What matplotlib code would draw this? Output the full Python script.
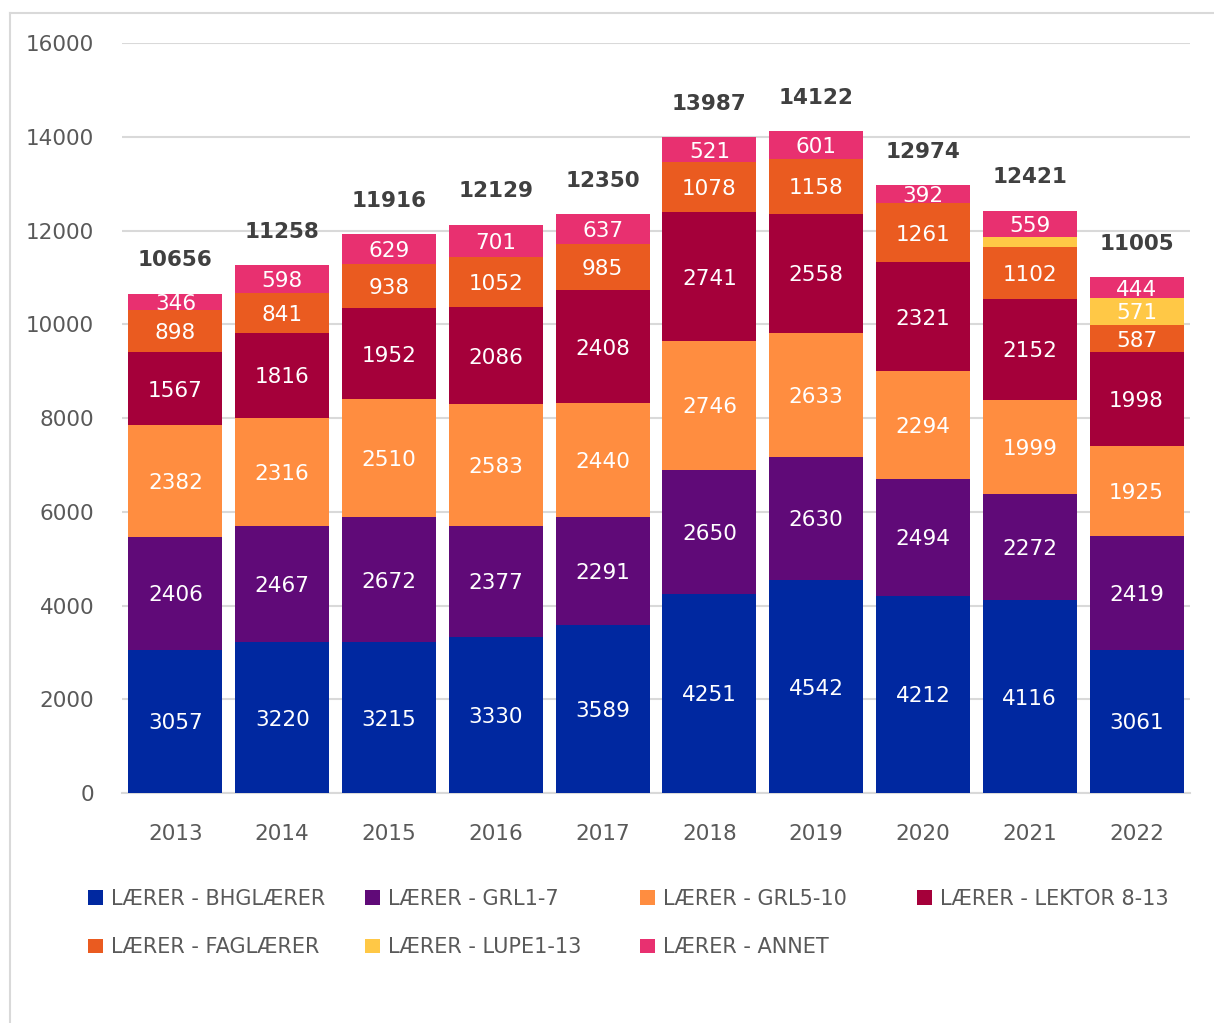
import numpy as np
import matplotlib
matplotlib.use("Agg")
import matplotlib.pyplot as plt
from matplotlib.lines import Line2D

plt.rcParams['font.family'] = ['DejaVu Sans']

years = ['2013', '2014', '2015', '2016', '2017', '2018', '2019', '2020', '2021', '2022']
series = ['LÆRER - BHGLÆRER', 'LÆRER - GRL1-7', 'LÆRER - GRL5-10', 'LÆRER - LEKTOR 8-13',
          'LÆRER - FAGLÆRER', 'LÆRER - LUPE1-13', 'LÆRER - ANNET']
bhg = [3057, 3220, 3215, 3330, 3589, 4251, 4542, 4212, 4116, 3061]
grl17 = [2406, 2467, 2672, 2377, 2291, 2650, 2630, 2494, 2272, 2419]
grl510 = [2382, 2316, 2510, 2583, 2440, 2746, 2633, 2294, 1999, 1925]
lektor = [1567, 1816, 1952, 2086, 2408, 2741, 2558, 2321, 2152, 1998]
fag = [898, 841, 938, 1052, 985, 1078, 1158, 1261, 1102, 587]
lupe = [0, 0, 0, 0, 0, 0, 0, 0, 221, 571]
annet = [346, 598, 629, 701, 637, 521, 601, 392, 559, 444]
totals = [10656, 11258, 11916, 12129, 12350, 13987, 14122, 12974, 12421, 11005]
colors = ['#0028A0', '#600A78', '#FF8D40', '#A5003A', '#EA5B20', '#FFC846', '#E83070']

data = [bhg, grl17, grl510, lektor, fag, lupe, annet]

fig = plt.figure(figsize=(12.14, 10.23), dpi=100)
ax = fig.add_axes([0.1005, 0.2248, 0.8797, 0.7331])

x = np.arange(len(years))
bottom = np.zeros(len(years))
bars = []
for name, vals, col in zip(series, data, colors):
    b = ax.bar(x, vals, 0.88, bottom=bottom, color=col, label=name, zorder=3)
    bars.append(b)
    for xi, v, bt in zip(x, vals, bottom):
        if v >= 300:
            ax.text(xi, bt + v / 2, str(v), ha='center', va='center_baseline',
                    color='white', fontsize=15.5, zorder=4)
    bottom += np.array(vals)

for xi, t in zip(x, totals):
    ax.annotate(str(t), (xi, t), xytext=(0, 24), textcoords='offset points',
                ha='center', va='center', fontsize=15.5, fontweight='bold', color='#404040')

ax.set_ylim(0, 16000)
ax.set_xlim(-0.5, 9.5)
ax.set_yticks(range(0, 16001, 2000))
ax.set_xticks(x)
ax.set_xticklabels(years)
ax.yaxis.grid(True, color='#d9d9d9', linewidth=1.5, zorder=0)
for s in ['top', 'right', 'left']:
    ax.spines[s].set_visible(False)
ax.spines['bottom'].set_color('#d9d9d9')
ax.spines['bottom'].set_linewidth(1.5)
ax.tick_params(axis='both', length=0, labelsize=15.5, labelcolor='#595959')
ax.tick_params(axis='y', pad=20)
ax.tick_params(axis='x', pad=22)

# legend: 4 columns placed like the original, filled row by row
col_x = [88, 365, 640, 917]
columns = [[0, 4], [1, 5], [2, 6], [3]]
for cx, idx in zip(col_x, columns):
    fig.legend([bars[i] for i in idx], [series[i] for i in idx],
               loc='upper left', bbox_to_anchor=(cx / 1214, 1 - 889 / 1023),
               frameon=False, borderpad=0, borderaxespad=0,
               fontsize=15, labelcolor='#595959', handlelength=0.7, handleheight=0.7,
               handletextpad=0.4, labelspacing=1.35)

fig.add_artist(Line2D([9.5 / 1214, 9.5 / 1214], [0, 1 - 13 / 1023], color='#d9d9d9', lw=1.5))
fig.add_artist(Line2D([9.5 / 1214, 1], [1 - 13 / 1023, 1 - 13 / 1023], color='#d9d9d9', lw=1.5))

fig.savefig('out.png', dpi=100)
